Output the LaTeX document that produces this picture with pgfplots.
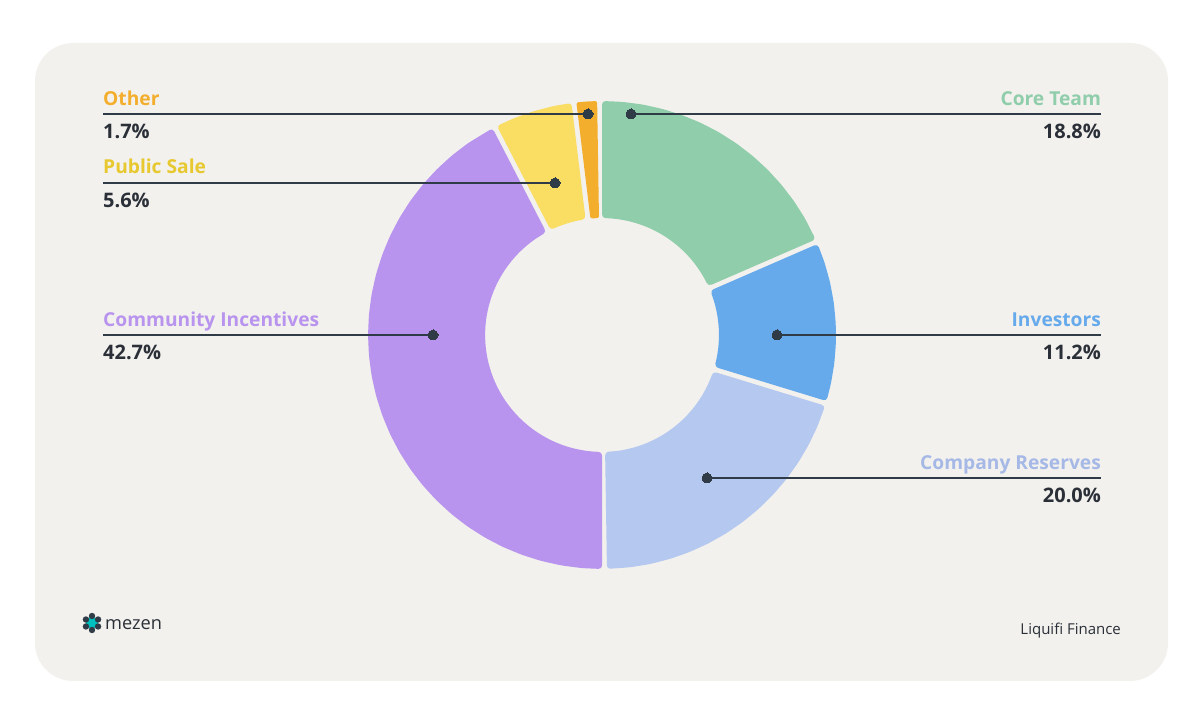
\documentclass[border=0pt]{standalone}
\usepackage{pgfplots}
\pgfplotsset{compat=1.18}
\usepackage{fontspec}
\setmainfont{Open Sans}
\definecolor{card}{HTML}{F2F1ED}
\definecolor{core}{HTML}{8FCDAB}
\definecolor{inv}{HTML}{67AAEC}
\definecolor{comp}{HTML}{B5C8F0}
\definecolor{comm}{HTML}{B994EE}
\definecolor{pub}{HTML}{FADD63}
\definecolor{oth}{HTML}{F4AE2E}
\definecolor{ink}{HTML}{2A2F38}
\definecolor{leader}{HTML}{2F3B46}
\newcommand{\lab}[1]{\fontsize{19.2}{24}\selectfont\bfseries #1}
\newcommand{\val}[1]{\fontsize{20}{24}\selectfont\bfseries #1}
\tikzset{slice/.style={fill=#1,draw=none,rounded corners=3.5pt},
  ldr/.style={draw=leader,line width=1.6pt,mark=*,mark size=5pt,mark options={fill=leader,draw=leader,line width=0pt}}}
\begin{document}
\begin{tikzpicture}
\path (0pt,0pt) rectangle (1199pt,714pt);
\fill[card,rounded corners=38pt] (35pt,33pt) rectangle (1168pt,671pt);
\begin{axis}[at={(0pt,0pt)},anchor=south west,width=1199pt,height=714pt,scale only axis,hide axis,
  xmin=-602,xmax=597,ymin=-379,ymax=335,clip=false]
% Core Team 18.8%
\addplot[slice=core,data cs=polar] coordinates {(90,234)(85,234)(80,234)(75,234)(70,234)(65,234)(60,234)(55,234)(50,234)(45,234)(40,234)(35,234)(30,234)(24.1,234)
 (24.7,117)(30,117)(35,117)(40,117)(45,117)(50,117)(55,117)(60,117)(65,117)(70,117)(75,117)(80,117)(85,117)(90,117)} --cycle;
% Investors 11.2%
\addplot[slice=inv,data cs=polar] coordinates {(22.9,234)(18,234)(13,234)(8,234)(3,234)(-2,234)(-7,234)(-12,234)(-16.4,234)
 (-15.8,117)(-11,117)(-6,117)(-1,117)(4,117)(9,117)(14,117)(18,117)(22.3,117)} --cycle;
% Company Reserves 20.0%
\addplot[slice=comp,data cs=polar] coordinates {(-17.6,234)(-23,234)(-28,234)(-33,234)(-38,234)(-43,234)(-48,234)(-53,234)(-58,234)(-63,234)(-68,234)(-73,234)(-78,234)(-83,234)(-88.8,234)
 (-88.5,117)(-83,117)(-78,117)(-73,117)(-68,117)(-63,117)(-58,117)(-53,117)(-48,117)(-43,117)(-38,117)(-33,117)(-28,117)(-23,117)(-18.2,117)} --cycle;
% Community Incentives 42.7%
\addplot[slice=comm,data cs=polar] coordinates {(-90,234)(-95,234)(-100,234)(-105,234)(-110,234)(-115,234)(-120,234)(-125,234)(-130,234)(-135,234)(-140,234)(-145,234)(-150,234)(-155,234)(-160,234)(-165,234)(-170,234)(-175,234)(-180,234)(-185,234)(-190,234)(-195,234)(-200,234)(-205,234)(-210,234)(-215,234)(-220,234)(-225,234)(-230,234)(-235,234)(-242.1,234)
 (-241.5,117)(-235,117)(-230,117)(-225,117)(-220,117)(-215,117)(-210,117)(-205,117)(-200,117)(-195,117)(-190,117)(-185,117)(-180,117)(-175,117)(-170,117)(-165,117)(-160,117)(-155,117)(-150,117)(-145,117)(-140,117)(-135,117)(-130,117)(-125,117)(-120,117)(-115,117)(-110,117)(-105,117)(-100,117)(-95,117)(-90,117)} --cycle;
% Public Sale 5.6%
\addplot[slice=pub,data cs=polar] coordinates {(-243.3,234)(-248,234)(-253,234)(-258,234)(-262.5,234)
 (-261.9,117)(-258,117)(-253,117)(-248,117)(-243.9,117)} --cycle;
% Other 1.7%
\addplot[fill=oth,draw=none,rounded corners=2pt,data cs=polar] coordinates {(-263.7,234)(-266,234)(-268.8,234)
 (-268.5,117)(-266,117)(-264.3,117)} --cycle;
% leaders
\addplot[ldr,mark indices={2}] coordinates {(-499,221)(-14,221)};
\addplot[ldr,mark indices={2}] coordinates {(-499,152)(-47,152)};
\addplot[ldr,mark indices={2}] coordinates {(-499,0)(-169,0)};
\addplot[ldr,mark indices={1}] coordinates {(29,221)(499,221)};
\addplot[ldr,mark indices={1}] coordinates {(175,0)(499,0)};
\addplot[ldr,mark indices={1}] coordinates {(105,-143)(499,-143)};
% labels
\node[anchor=base west,inner sep=0pt,text=oth] at (axis cs:-499,229) {\lab{Other}};
\node[anchor=base west,inner sep=0pt,text=ink] at (axis cs:-499,196) {\val{1.7\%}};
\node[anchor=base west,inner sep=0pt,text={rgb,255:red,232;green,200;blue,47}] at (axis cs:-499,161) {\lab{Public Sale}};
\node[anchor=base west,inner sep=0pt,text=ink] at (axis cs:-499,127) {\val{5.6\%}};
\node[anchor=base west,inner sep=0pt,text=comm] at (axis cs:-499,8) {\lab{Community Incentives}};
\node[anchor=base west,inner sep=0pt,text=ink] at (axis cs:-499,-25) {\val{42.7\%}};
\node[anchor=base east,inner sep=0pt,text=core] at (axis cs:499,229) {\lab{Core Team}};
\node[anchor=base east,inner sep=0pt,text=ink] at (axis cs:499,196) {\val{18.8\%}};
\node[anchor=base east,inner sep=0pt,text=inv] at (axis cs:499,8) {\lab{Investors}};
\node[anchor=base east,inner sep=0pt,text=ink] at (axis cs:499,-25) {\val{11.2\%}};
\node[anchor=base east,inner sep=0pt,text={rgb,255:red,165;green,184;blue,230}] at (axis cs:499,-135) {\lab{Company Reserves}};
\node[anchor=base east,inner sep=0pt,text=ink] at (axis cs:499,-168) {\val{20.0\%}};
\node[anchor=base west,inner sep=0pt,text=ink] at (axis cs:-497,-295) {\fontsize{18.2}{22}\selectfont mezen};
\node[anchor=base east,inner sep=0pt,text=ink] at (axis cs:519,-300) {\fontsize{15}{18}\selectfont Liquifi Finance};
\end{axis}
% logo
\fill[teal!50!cyan] (92pt,91pt) circle (6pt);
\foreach \a in {30,90,...,330}{\fill[leader] (92pt,91pt)++(\a:7pt) circle (3.2pt);}
\end{tikzpicture}
\end{document}
